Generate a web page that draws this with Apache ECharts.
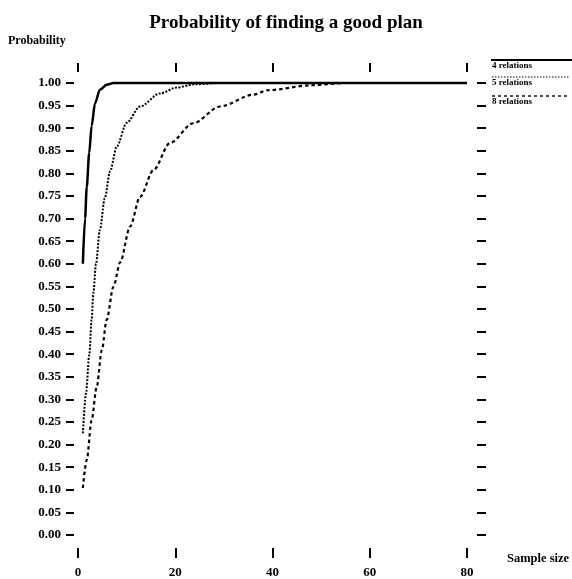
<!DOCTYPE html>
<html>
<head>
<meta charset="utf-8">
<script src="https://cdn.jsdelivr.net/npm/echarts@6/dist/echarts.min.js"></script>
<style>
html,body{margin:0;padding:0;background:#fff;}
#chart{width:572px;height:579px;}
</style>
</head>
<body>
<div id="chart"></div>
<script>
// Sample sizes and probabilities
var rel4X = [1, 1.45, 1.8, 2.3, 2.8, 3.5, 4.5, 5.9, 7.3, 10, 20, 40, 60, 80];
var rel4Y = [0.60, 0.70, 0.77, 0.845, 0.905, 0.955, 0.985, 0.996, 1.0, 1.0, 1.0, 1.0, 1.0, 1.0];

var rel5X = [1, 1.65, 2.33, 2.8, 3.15, 3.7, 4.5, 5.5, 6.6, 8, 10, 12.75, 16.9, 20.3, 24, 29, 40, 60, 80];
var rel5Y = [0.225, 0.313, 0.40, 0.476, 0.535, 0.60, 0.675, 0.745, 0.805, 0.86, 0.912, 0.948, 0.977, 0.99, 0.997, 1.0, 1.0, 1.0, 1.0];

var rel8X = [1, 1.8, 2.8, 3.85, 4.9, 5.9, 7.27, 8.7, 10.7, 12.75, 15.5, 18.9, 23.7, 29.2, 36, 39, 48, 55, 80];
var rel8Y = [0.104, 0.166, 0.254, 0.328, 0.409, 0.476, 0.549, 0.604, 0.682, 0.748, 0.807, 0.867, 0.911, 0.948, 0.974, 0.984, 0.995, 1.0, 1.0];

var seriesNames = ['4 relations', '5 relations', '8 relations'];
var xTicks = [0, 20, 40, 60, 80];

function pairs(xs, ys) { return xs.map(function (x, i) { return [x, ys[i]]; }); }

var FONT = '"Liberation Serif", "DejaVu Serif", serif';
var chart = echarts.init(document.getElementById('chart'), null, {renderer: 'canvas'});

var tickStyle = {color: '#000', width: 2};
var option = {
  animation: false,
  backgroundColor: '#fff',
  title: {
    text: 'Probability of finding a good plan',
    left: 'center', top: 9,
    textStyle: {fontFamily: FONT, fontWeight: 'bold', fontSize: 19, color: '#000'}
  },
  grid: {left: 78, right: 105, top: 83, bottom: 44, containLabel: false},
  xAxis: [{
    type: 'value', position: 'bottom', min: 0, max: 80, interval: 20, offset: 13,
    axisLine: {show: false, onZero: false},
    axisTick: {show: true, length: 10, lineStyle: tickStyle},
    splitLine: {show: false},
    axisLabel: {margin: 18, color: '#000', fontFamily: FONT, fontWeight: 'bold', fontSize: 13,
      formatter: function (v) { return xTicks.indexOf(v) >= 0 ? String(v) : ''; }}
  }, {
    type: 'value', position: 'top', min: 0, max: 80, interval: 20, offset: 11,
    axisLine: {show: false, onZero: false},
    axisTick: {show: true, length: 9, lineStyle: tickStyle},
    splitLine: {show: false},
    axisLabel: {show: false}
  }],
  yAxis: [{
    type: 'value', position: 'left', min: 0, max: 1, interval: 0.05, offset: 4,
    axisLine: {show: false, onZero: false},
    axisTick: {show: true, length: 8, lineStyle: tickStyle},
    splitLine: {show: false},
    axisLabel: {margin: 13, color: '#000', fontFamily: FONT, fontWeight: 'bold', fontSize: 13,
      formatter: function (v) { return v.toFixed(2); }}
  }, {
    type: 'value', position: 'right', min: 0, max: 1, interval: 0.05, offset: 10,
    axisLine: {show: false, onZero: false},
    axisTick: {show: true, length: 9, lineStyle: tickStyle},
    splitLine: {show: false},
    axisLabel: {show: false}
  }],
  series: [{
    name: seriesNames[2], type: 'line', data: pairs(rel8X, rel8Y), showSymbol: false,
    smooth: 0.3, smoothMonotone: 'x', clip: false, z: 2,
    lineStyle: {color: '#000', width: 2.2, type: [3.5, 3]}
  }, {
    name: seriesNames[1], type: 'line', data: pairs(rel5X, rel5Y), showSymbol: false,
    smooth: 0.3, smoothMonotone: 'x', clip: false, z: 3,
    lineStyle: {color: '#000', width: 2, type: [2, 1.5]}
  }, {
    name: seriesNames[0], type: 'line', data: pairs(rel4X, rel4Y), showSymbol: false,
    smooth: 0.3, smoothMonotone: 'x', clip: false, z: 4,
    lineStyle: {color: '#000', width: 2.5, type: 'solid'}
  }],
  graphic: [
    {type: 'text', left: 8, top: 35, style: {text: 'Probability', fill: '#000', font: 'bold 12px ' + FONT}},
    {type: 'text', left: 507, top: 552, style: {text: 'Sample size', fill: '#000', font: 'bold 12.5px ' + FONT}},
    {type: 'line', shape: {x1: 491, y1: 60, x2: 572, y2: 60}, style: {stroke: '#000', lineWidth: 1.8}},
    {type: 'text', left: 492, top: 61, style: {text: seriesNames[0], fill: '#000', font: 'bold 9px ' + FONT}},
    {type: 'line', shape: {x1: 492, y1: 77, x2: 570, y2: 77}, style: {stroke: '#000', lineWidth: 1.2, lineDash: [1.5, 1.5]}},
    {type: 'text', left: 492, top: 78, style: {text: seriesNames[1], fill: '#000', font: 'bold 9px ' + FONT}},
    {type: 'line', shape: {x1: 492, y1: 96, x2: 570, y2: 96}, style: {stroke: '#000', lineWidth: 1.4, lineDash: [3, 3]}},
    {type: 'text', left: 492, top: 97, style: {text: seriesNames[2], fill: '#000', font: 'bold 9px ' + FONT}}
  ]
};
chart.setOption(option);
</script>
</body>
</html>
